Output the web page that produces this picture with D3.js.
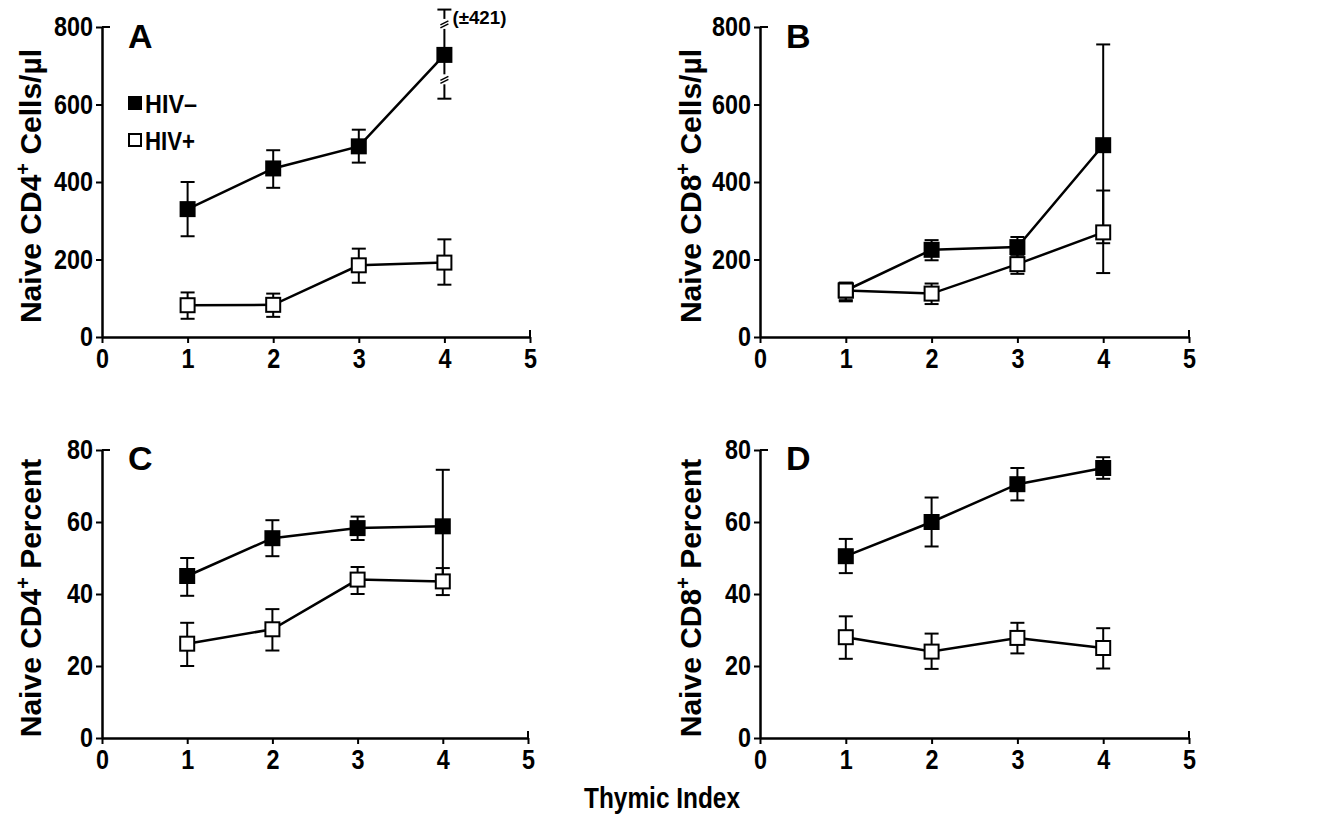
<!DOCTYPE html>
<html>
<head>
<meta charset="utf-8">
<script src="https://cdn.jsdelivr.net/npm/d3@7"></script>
<style>
body { margin: 0; background: #fff; }
svg text { font-family: "Liberation Sans", Arial, sans-serif; font-weight: bold; fill: #000; }
</style>
</head>
<body>
<div class="container"></div>
<script>
////////////////////////////////////////////////////////////////
// DATA
////////////////////////////////////////////////////////////////
var thymicIndex = [1, 2, 3, 4];
var seriesNames = ["HIV\u2013", "HIV+"];

// A: naive CD4 cells/ul
var cd4CountNeg = [330, 435, 492, 728];
var cd4CountNegLo = [260, 385, 450, 615];
var cd4CountNegHi = [400, 482, 535, 845];
var cd4CountPos = [82, 83, 185, 192];
var cd4CountPosLo = [47, 52, 140, 135];
var cd4CountPosHi = [115, 112, 228, 252];

// B: naive CD8 cells/ul
var cd8CountNeg = [120, 225, 232, 495];
var cd8CountNegLo = [92, 198, 205, 242];
var cd8CountNegHi = [140, 250, 258, 755];
var cd8CountPos = [120, 112, 188, 270];
var cd8CountPosLo = [95, 85, 163, 165];
var cd8CountPosHi = [140, 138, 212, 378];

// C: naive CD4 percent
var cd4PctNeg = [45, 55.5, 58.3, 58.8];
var cd4PctNegLo = [39.5, 50.5, 55, 43];
var cd4PctNegHi = [50, 60.5, 61.5, 74.5];
var cd4PctPos = [26.2, 30.2, 44, 43.5];
var cd4PctPosLo = [20, 24.3, 40, 39.7];
var cd4PctPosHi = [32, 35.8, 47.5, 47.2];

// D: naive CD8 percent
var cd8PctNeg = [50.5, 60, 70.5, 75];
var cd8PctNegLo = [45.8, 53.2, 66, 72];
var cd8PctNegHi = [55.3, 66.8, 75, 78];
var cd8PctPos = [28, 24, 27.8, 25];
var cd8PctPosLo = [22, 19.2, 23.5, 19.3];
var cd8PctPosHi = [33.8, 29, 32, 30.5];

var xTicks = [0, 1, 2, 3, 4, 5];
var countTicks = [0, 200, 400, 600, 800];
var pctTicks = [0, 20, 40, 60, 80];

var brokenBarNote = "(\u00b1421)"; // panel A, HIV- at index 4
var brokenAt = [665, 808]; // where the slash marks sit on that bar

////////////////////////////////////////////////////////////////
// CREATE STAGE
////////////////////////////////////////////////////////////////
function makeStage(w,h) {
	var svg = d3.select(".container")
	   .append("svg")
	   .attr("width", w)
	   .attr("height", h);
	return svg;
}

var svg = makeStage(1321,819);

function series(vals, lo, hi) {
	return thymicIndex.map(function(t,i){ return {x:t, y:vals[i], lo:lo[i], hi:hi[i]}; });
}

////////////////////////////////////////////////////////////////
// PANEL LAYOUT
////////////////////////////////////////////////////////////////
var panels = [
	{letter:"A", x0:102, x1:530, y0:337, y1:27, ymax:800, ticks:countTicks, lab:["Naive CD4","+"," Cells/\u00b5l"], labX:30,
	 neg:series(cd4CountNeg,cd4CountNegLo,cd4CountNegHi), pos:series(cd4CountPos,cd4CountPosLo,cd4CountPosHi), legend:true, broken:3},
	{letter:"B", x0:760, x1:1189, y0:337, y1:27, ymax:800, ticks:countTicks, lab:["Naive CD8","+"," Cells/\u00b5l"], labX:690,
	 neg:series(cd8CountNeg,cd8CountNegLo,cd8CountNegHi), pos:series(cd8CountPos,cd8CountPosLo,cd8CountPosHi)},
	{letter:"C", x0:102, x1:528, y0:738, y1:450, ymax:80, ticks:pctTicks, lab:["Naive CD4","+"," Percent"], labX:30,
	 neg:series(cd4PctNeg,cd4PctNegLo,cd4PctNegHi), pos:series(cd4PctPos,cd4PctPosLo,cd4PctPosHi)},
	{letter:"D", x0:760, x1:1189, y0:738, y1:450, ymax:80, ticks:pctTicks, lab:["Naive CD8","+"," Percent"], labX:690,
	 neg:series(cd8PctNeg,cd8PctNegLo,cd8PctNegHi), pos:series(cd8PctPos,cd8PctPosLo,cd8PctPosHi)}
];

////////////////////////////////////////////////////////////////
// DRAW ONE PANEL
////////////////////////////////////////////////////////////////
function drawPanel(p) {
	var x = d3.scaleLinear().domain([0,5]).range([p.x0,p.x1]);
	var y = d3.scaleLinear().domain([0,p.ymax]).range([p.y0,p.y1]);
	var g = svg.append("g");

	// axes
	var xa = g.append("g").attr("transform","translate(0,"+p.y0+")")
	   .call(d3.axisBottom(x).tickValues(xTicks).tickFormat(d3.format("d")).tickSize(6).tickSizeOuter(0).tickPadding(3));
	var ya = g.append("g").attr("transform","translate("+p.x0+",0)")
	   .call(d3.axisLeft(y).tickValues(p.ticks).tickFormat(d3.format("d")).tickSize(6).tickSizeOuter(0).tickPadding(3));
	[xa,ya].forEach(function(a){
		a.select(".domain").attr("stroke","#000").attr("stroke-width",2.5);
		a.selectAll(".tick line").attr("stroke","#000").attr("stroke-width",2);
		a.selectAll(".tick text").attr("font-size",28).attr("fill","#000")
		   .attr("textLength", function(d){ return String(d).length*13; })
		   .attr("lengthAdjust","spacingAndGlyphs");
	});
	xa.selectAll(".tick text").attr("dy","0.8em");
	// small inward ticks at the far ends
	g.append("line").attr("x1",x(5)).attr("x2",x(5)).attr("y1",p.y0).attr("y2",p.y0-7)
	   .attr("stroke","#000").attr("stroke-width",2);
	g.append("line").attr("x1",p.x0).attr("x2",p.x0+8).attr("y1",y(p.ymax)).attr("y2",y(p.ymax))
	   .attr("stroke","#000").attr("stroke-width",2);

	// y label
	var lt = g.append("text")
	   .attr("transform","translate("+(p.labX+11)+","+((p.y0+p.y1)/2+4)+") rotate(-90)")
	   .attr("text-anchor","middle")
	   .attr("font-size",30);
	lt.append("tspan").text(p.lab[0]);
	lt.append("tspan").attr("font-size",20).attr("dy",-11).text(p.lab[1]);
	lt.append("tspan").attr("dy",11).text(p.lab[2]);

	// panel letter
	g.append("text").attr("x",p.x0+26).attr("y",p.y1+ (p.ymax==800 ? 21 : 20))
	   .attr("font-size",34).text(p.letter);

	var line = d3.line().x(function(d){return x(d.x);}).y(function(d){return y(d.y);});

	[p.neg,p.pos].forEach(function(s,si){
		// error bars
		s.forEach(function(d,i){
			var cx = x(d.x);
			g.append("line").attr("x1",cx).attr("x2",cx).attr("y1",y(d.lo)).attr("y2",y(d.hi))
			   .attr("stroke","#000").attr("stroke-width",2);
			if (p.broken===i && si===0) {
				// broken bar with slash marks
				brokenAt.forEach(function(v){
					g.append("rect").attr("x",cx-4).attr("y",y(v)-5).attr("width",8).attr("height",10).attr("fill","#fff");
					g.append("line").attr("x1",cx-4).attr("x2",cx+4).attr("y1",y(v)+1).attr("y2",y(v)-3).attr("stroke","#000").attr("stroke-width",1.5);
					g.append("line").attr("x1",cx-4).attr("x2",cx+4).attr("y1",y(v)+4).attr("y2",y(v)).attr("stroke","#000").attr("stroke-width",1.5);
				});
				g.append("text").attr("x",cx+8).attr("y",y(d.hi)+14).attr("font-size",19)
				   .attr("textLength",54).attr("lengthAdjust","spacingAndGlyphs").text(brokenBarNote);
			}
			[d.lo,d.hi].forEach(function(v){
				g.append("line").attr("x1",cx-7).attr("x2",cx+7).attr("y1",y(v)).attr("y2",y(v))
				   .attr("stroke","#000").attr("stroke-width",2);
			});
		});
		g.append("path").datum(s).attr("d",line).attr("fill","none")
		   .attr("stroke","#000").attr("stroke-width",2.5);
	});
	[p.neg,p.pos].forEach(function(s,si){
		g.selectAll(null).data(s).enter().append("rect")
		   .attr("x",function(d){return x(d.x)-7;})
		   .attr("y",function(d){return y(d.y)-7;})
		   .attr("width",14).attr("height",14)
		   .attr("fill", si===0 ? "#000" : "#fff")
		   .attr("stroke","#000").attr("stroke-width",2);
	});

	// legend
	if (p.legend) {
		seriesNames.forEach(function(n,i){
			var ly = 103 + i*37;
			g.append("rect").attr("x",p.x0+27).attr("y",ly-6).attr("width",12).attr("height",12)
			   .attr("fill", i===0 ? "#000" : "#fff").attr("stroke","#000").attr("stroke-width",2);
			g.append("text").attr("x",p.x0+43).attr("y",ly+10).attr("font-size",25)
			   .attr("textLength",i===0 ? 52 : 50).attr("lengthAdjust","spacingAndGlyphs").text(n);
		});
	}
}

panels.forEach(drawPanel);

svg.append("text").attr("x",662).attr("y",808).attr("text-anchor","middle")
   .attr("font-size",30).attr("textLength",156).attr("lengthAdjust","spacingAndGlyphs")
   .text("Thymic Index");
</script>
</body>
</html>
